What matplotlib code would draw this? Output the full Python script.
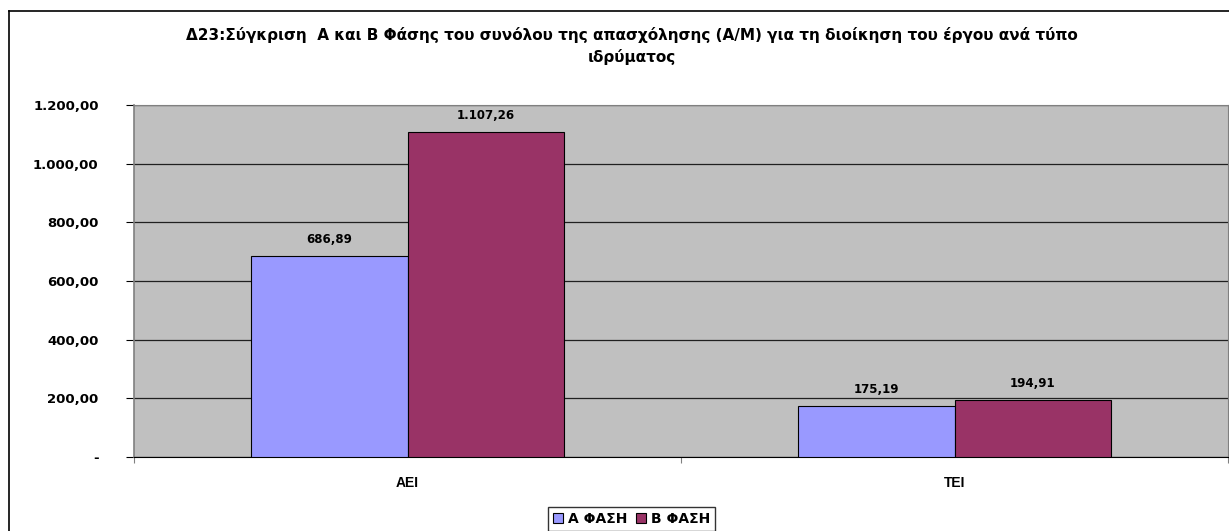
import matplotlib
matplotlib.use("Agg")
import matplotlib.pyplot as plt
import numpy as np
from matplotlib.lines import Line2D
from matplotlib.ticker import FuncFormatter, FixedLocator

plt.rcParams["font.family"] = ["DejaVu Sans"]
plt.rcParams["font.weight"] = "bold"

title = ("Δ23:Σύγκριση  Α και Β Φάσης του συνόλου της απασχόλησης (Α/Μ) για τη διοίκηση του έργου ανά τύπο\n"
         "ιδρύματος")
categories = ["ΑΕΙ", "ΤΕΙ"]
series_names = ["Α ΦΑΣΗ", "Β ΦΑΣΗ"]
phase_a = [686.89, 175.19]
phase_b = [1107.26, 194.91]
colors = ["#9999FF", "#993366"]


def greek_number(v, decimals=2):
    s = f"{v:,.{decimals}f}"
    return s.replace(",", "X").replace(".", ",").replace("X", ".")


def y_fmt(v, _pos):
    if abs(v) < 1e-9:
        return "-"
    return greek_number(v)


fig = plt.figure(figsize=(12.29, 5.31), dpi=100)
ax = fig.add_axes([134 / 1229, 1 - 457 / 531, 1094 / 1229, 352 / 531])
ax.set_facecolor("#C0C0C0")

x = np.arange(len(categories))
width = 1 / 3.5
for i, (vals, name) in enumerate(zip([phase_a, phase_b], series_names)):
    offs = (i - 0.5) * width
    bars = ax.bar(x + offs, vals, width, color=colors[i], edgecolor="black",
                  linewidth=0.8, label=name, zorder=3)
    for b, v in zip(bars, vals):
        ax.annotate(greek_number(v), (b.get_x() + b.get_width() / 2, v),
                    xytext=(0, 7), textcoords="offset points", ha="center",
                    va="bottom", fontsize=8.5, fontweight="bold")

ax.set_xlim(-0.5, 1.5)
ax.set_ylim(0, 1200)
ax.yaxis.set_major_locator(FixedLocator(np.arange(0, 1201, 200)))
ax.yaxis.set_major_formatter(FuncFormatter(y_fmt))
ax.grid(axis="y", color="#202020", linewidth=0.9, zorder=1)
ax.set_axisbelow(True)

ax.set_xticks([-0.5, 0.5, 1.5])
ax.set_xticklabels([])
ax.set_xticks(x, minor=True)
ax.set_xticklabels(categories, minor=True, fontsize=10, fontweight="bold",
                   family="Liberation Sans")
ax.tick_params(axis="x", which="minor", length=0, pad=14)
ax.tick_params(axis="x", which="major", length=4, color="#808080", direction="out")
ax.tick_params(axis="y", length=6, color="black", labelsize=9.5, pad=19.5)
for lab in ax.get_yticklabels():
    lab.set_fontweight("bold")

for side in ["top", "right"]:
    ax.spines[side].set_color("#808080")
ax.spines["left"].set_color("#808080")
ax.spines["left"].set_linewidth(1.2)
ax.spines["bottom"].set_color("black")

fig.text(0.514, 1 - 46 / 531, title, ha="center", va="center",
         fontsize=11, fontweight="bold", linespacing=1.45)

# outer chart frame
fig.add_artist(Line2D([9 / 1229, 9 / 1229], [0, 1 - 11 / 531], color="black", lw=1.2))
fig.add_artist(Line2D([9 / 1229, 1], [1 - 11 / 531, 1 - 11 / 531], color="black", lw=1.2))

leg = fig.legend(loc="upper center", bbox_to_anchor=(0.514, 1 - 507 / 531), ncol=2,
                 fontsize=10, frameon=True, fancybox=False, edgecolor="black",
                 handlelength=0.75, handleheight=0.75, handletextpad=0.35,
                 columnspacing=0.6, borderpad=0.35, borderaxespad=0)
leg.get_frame().set_linewidth(1.0)
for t in leg.get_texts():
    t.set_fontweight("bold")

fig.savefig("out.png", dpi=100)
